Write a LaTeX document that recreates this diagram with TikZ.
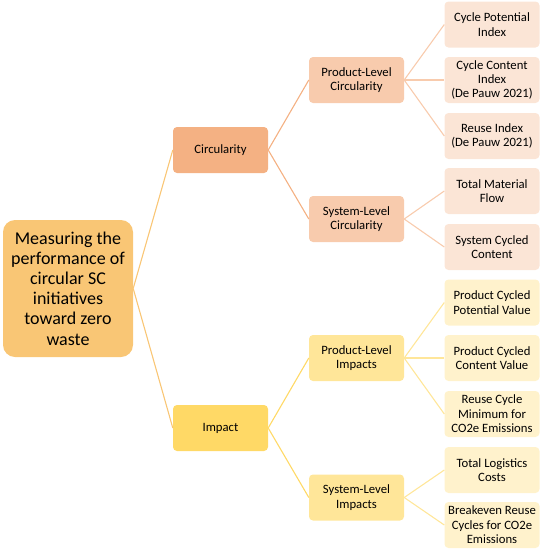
\documentclass[tikz,border=0pt]{standalone}
\usepackage{fontspec}
\setmainfont{Carlito}
\usepackage{xcolor}
\definecolor{rootfill}{HTML}{F9C675}
\definecolor{circfill}{HTML}{F4B183}
\definecolor{circsub}{HTML}{F8CBAD}
\definecolor{circleaf}{HTML}{FBE5D6}
\definecolor{impfill}{HTML}{FFD966}
\definecolor{impsub}{HTML}{FFE699}
\definecolor{impleaf}{HTML}{FFF2CC}
\tikzset{
  box/.style={rounded corners=4pt, align=center, minimum width=95pt, minimum height=46pt,
    inner sep=1pt, font=\fontsize{12.7}{14.4}\selectfont},
  rootbox/.style={box, fill=rootfill, rounded corners=12pt, minimum width=130pt,
    minimum height=137pt, font=\fontsize{18}{20.2}\selectfont},
  link/.style={line width=1.1pt},
}

\begin{document}
\begin{tikzpicture}[x=1pt,y=-1pt]
    \useasboundingbox (0,0) rectangle (546,552);
    % root and categories
    \node[rootbox] (root) at (68,288.5) {Measuring the\\performance of\\circular SC\\initiatives\\toward zero\\waste};
    \node[box, fill=circfill] (circ) at (220.5,150) {Circularity};
    \node[box, fill=impfill] (imp) at (220.5,428) {Impact};
    % sub-levels
    \node[box, fill=circsub] (pcirc) at (356.5,80) {Product-Level\\Circularity};
    \node[box, fill=circsub] (scirc) at (356.5,219) {System-Level\\Circularity};
    \node[box, fill=impsub] (pimp) at (356.5,358) {Product-Level\\Impacts};
    \node[box, fill=impsub] (simp) at (356.5,497.5) {System-Level\\Impacts};
    % leaves
    \node[box, fill=circleaf] (l1) at (492,24.5) {Cycle Potential\\Index};
    \node[box, fill=circleaf] (l2) at (492,80) {Cycle Content\\Index\\(De Pauw 2021)};
    \node[box, fill=circleaf] (l3) at (492,136) {Reuse Index\\(De Pauw 2021)};
    \node[box, fill=circleaf] (l4) at (492,191) {Total Material\\Flow};
    \node[box, fill=circleaf] (l5) at (492,247) {System Cycled\\Content};
    \node[box, fill=impleaf] (l6) at (492,302.5) {Product Cycled\\Potential Value};
    \node[box, fill=impleaf] (l7) at (492,358) {Product Cycled\\Content Value};
    \node[box, fill=impleaf] (l8) at (492,414) {Reuse Cycle\\Minimum for\\CO2e Emissions};
    \node[box, fill=impleaf] (l9) at (492,470) {Total Logistics\\Costs};
    \node[box, fill=impleaf] (l10) at (492,525) {Breakeven Reuse\\Cycles for CO2e\\Emissions};
    % connectors
    \draw[link, rootfill] (root.east) -- (circ.west);
    \draw[link, rootfill] (root.east) -- (imp.west);
    \foreach \t in {pcirc,scirc}
        \draw[link, circfill] (circ.east) -- (\t.west);
    \foreach \t in {pimp,simp}
        \draw[link, impfill] (imp.east) -- (\t.west);
    \foreach \t in {l1,l2,l3}
        \draw[link, circsub] (pcirc.east) -- (\t.west);
    \foreach \t in {l4,l5}
        \draw[link, circsub] (scirc.east) -- (\t.west);
    \foreach \t in {l6,l7,l8}
        \draw[link, impsub] (pimp.east) -- (\t.west);
    \foreach \t in {l9,l10}
        \draw[link, impsub] (simp.east) -- (\t.west);
\end{tikzpicture}
\end{document}
